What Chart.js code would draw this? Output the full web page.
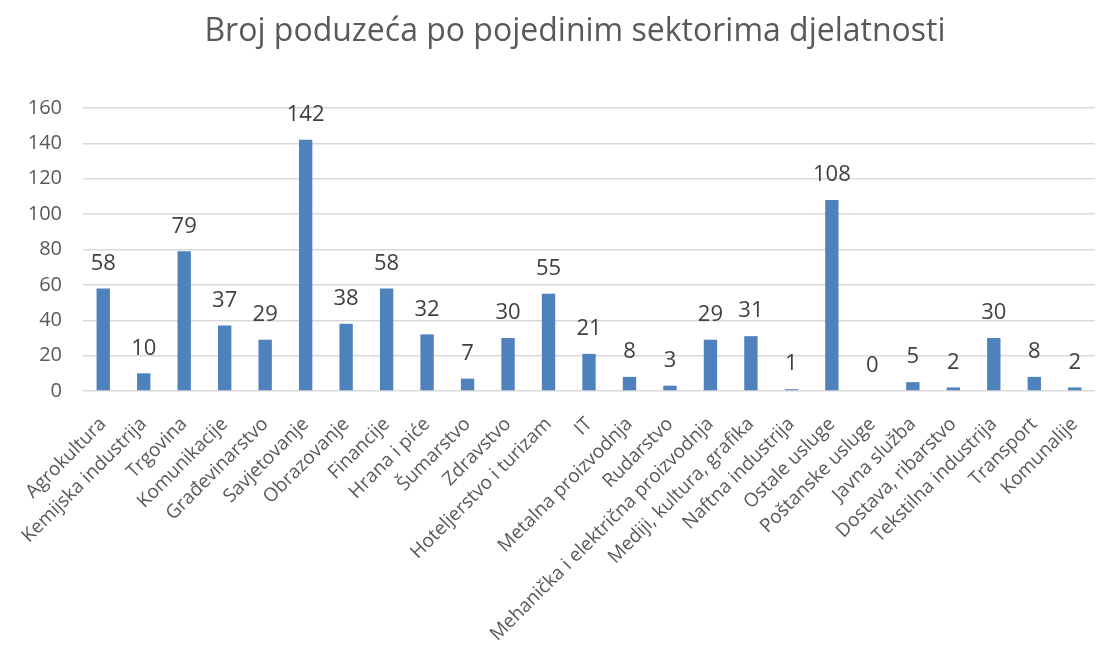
<!DOCTYPE html>
<html lang="hr">
<head>
<meta charset="utf-8">
<title>Broj poduzeća po pojedinim sektorima djelatnosti</title>
<script src="https://cdn.jsdelivr.net/npm/chart.js@4/dist/chart.umd.min.js"></script>
<style>
  html, body { margin: 0; padding: 0; background: #fff; }
  #wrap { width: 1118px; height: 659px; position: relative; }
</style>
</head>
<body>
<div id="wrap"><canvas id="sectorChart" width="1118" height="659"></canvas></div>
<script>
// -----------------------------------------
// DATA
// -----------------------------------------
const chartTitle = 'Broj poduzeća po pojedinim sektorima djelatnosti';
const sectors = [
  'Agrokultura', 'Kemijska industrija', 'Trgovina', 'Komunikacije', 'Građevinarstvo',
  'Savjetovanje', 'Obrazovanje', 'Financije', 'Hrana i piće', 'Šumarstvo',
  'Zdravstvo', 'Hoteljerstvo i turizam', 'IT', 'Metalna proizvodnja', 'Rudarstvo',
  'Mehanička i električna proizvodnja', 'Mediji, kultura, grafika', 'Naftna industrija',
  'Ostale usluge', 'Poštanske usluge', 'Javna služba', 'Dostava, ribarstvo',
  'Tekstilna industrija', 'Transport', 'Komunalije'
];
const companyCounts = [58, 10, 79, 37, 29, 142, 38, 58, 32, 7, 30, 55, 21, 8, 3, 29, 31, 1, 108, 0, 5, 2, 30, 8, 2];
const yTicks = [0, 20, 40, 60, 80, 100, 120, 140, 160];

const FONT = "'Open Sans', 'Liberation Sans', sans-serif";

// -----------------------------------------
// Value labels above each bar
// -----------------------------------------
const valueLabels = {
  id: 'valueLabels',
  afterDatasetsDraw(chart) {
    const c = chart.ctx;
    const meta = chart.getDatasetMeta(0);
    c.save();
    c.font = '22px ' + FONT;
    c.fillStyle = '#404040';
    c.textAlign = 'center';
    c.textBaseline = 'middle';
    meta.data.forEach((bar, i) => {
      c.fillText(String(companyCounts[i]), bar.x, bar.y - 25);
    });
    c.restore();
  }
};

// -----------------------------------------
// Title (drawn by hand: the original sits a bit right of the canvas centre)
// -----------------------------------------
const offsetTitle = {
  id: 'offsetTitle',
  afterDraw(chart) {
    const c = chart.ctx;
    c.save();
    c.font = '32px ' + FONT;
    c.fillStyle = '#595959';
    c.textAlign = 'center';
    c.textBaseline = 'middle';
    c.fillText(chartTitle, chart.width / 2 + 16, 32);
    c.restore();
  }
};

new Chart(document.getElementById('sectorChart'), {
  type: 'bar',
  data: {
    labels: sectors,
    datasets: [{
      data: companyCounts,
      backgroundColor: '#4F81BD',
      borderWidth: 0,
      categoryPercentage: 1,
      barPercentage: 0.33
    }]
  },
  options: {
    responsive: false,
    animation: false,
    layout: { padding: { left: 0, right: 23, top: 108, bottom: 0 } },
    plugins: {
      legend: { display: false },
      tooltip: { enabled: false },
      title: { display: false }
    },
    scales: {
      y: {
        min: 0,
        max: 160,
        afterBuildTicks: scale => { scale.ticks = yTicks.map(v => ({ value: v })); },
        afterFit: scale => { scale.width = 83; },
        border: { display: false },
        grid: { color: '#D9D9D9', lineWidth: 1.5, drawTicks: false },
        ticks: {
          color: '#595959',
          padding: 21,
          font: { family: FONT, size: 20 }
        }
      },
      x: {
        afterFit: scale => { scale.height = 268; },
        border: { display: false },
        grid: { display: false },
        ticks: {
          color: '#595959',
          autoSkip: false,
          minRotation: 45,
          maxRotation: 45,
          padding: 14,
          font: { family: FONT, size: 19 }
        }
      }
    }
  },
  plugins: [valueLabels, offsetTitle]
});
</script>
</body>
</html>
